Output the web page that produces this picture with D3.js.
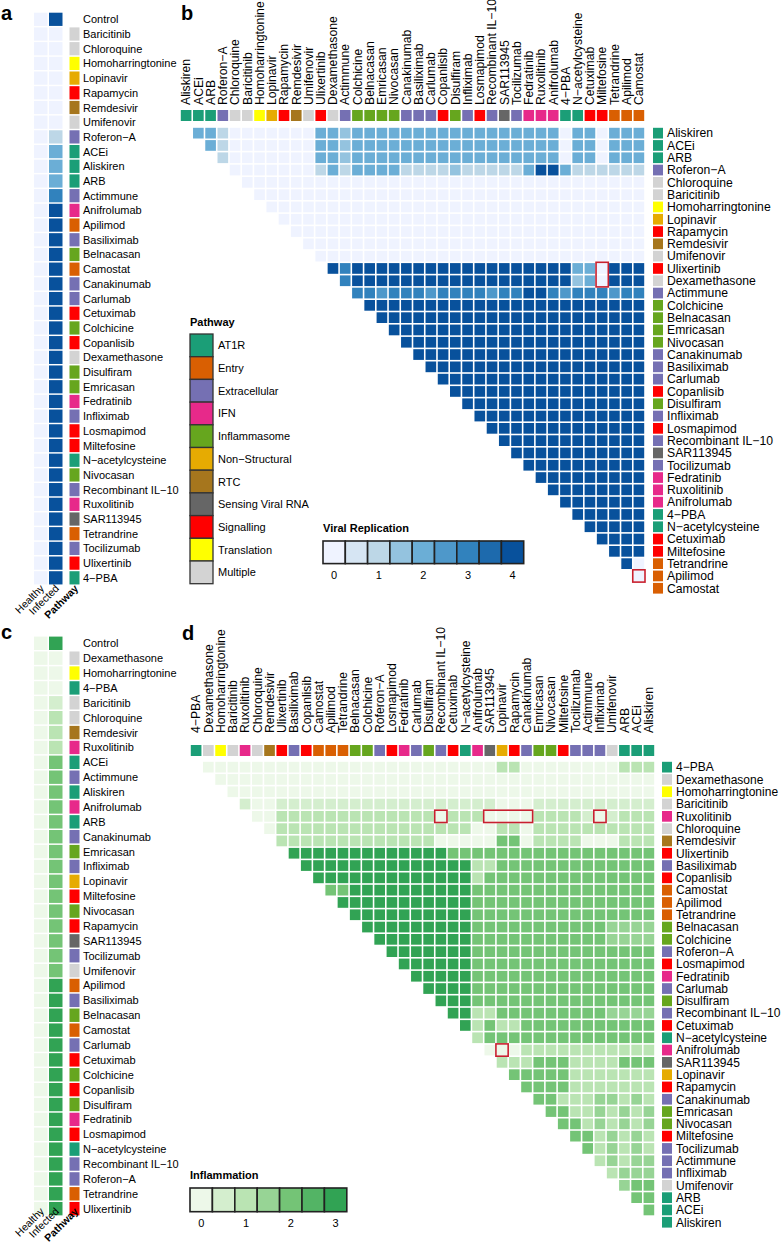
<!DOCTYPE html>
<html>
<head>
<meta charset="utf-8">
<script src="https://cdn.jsdelivr.net/npm/d3@7"></script>
<style>
body { margin: 0; background: #fff; }
text { font-family: "Liberation Sans", Arial, Helvetica, sans-serif; fill: #000; }
</style>
</head>
<body>
<svg id="chart" width="782" height="1248"></svg>
<script>
// ---- pathways ----
const pathways = ["AT1R", "Entry", "Extracellular", "IFN", "Inflammasome", "Non\u2212Structural",
  "RTC", "Sensing Viral RNA", "Signalling", "Translation", "Multiple"];
const pathwayColors = ["#1b9e77", "#d95f02", "#7570b3", "#e7298a", "#66a61e", "#e6ab02",
  "#a6761d", "#666666", "#ff0000", "#ffff00", "#d3d3d3"];

const drugPathway = {
  "Aliskiren": "AT1R", "ACEi": "AT1R", "ARB": "AT1R", "4\u2212PBA": "AT1R", "N\u2212acetylcysteine": "AT1R",
  "Tetrandrine": "Entry", "Apilimod": "Entry", "Camostat": "Entry",
  "Roferon\u2212A": "Extracellular", "Actimmune": "Extracellular", "Canakinumab": "Extracellular",
  "Basiliximab": "Extracellular", "Carlumab": "Extracellular", "Infliximab": "Extracellular",
  "Recombinant IL\u221210": "Extracellular", "Tocilizumab": "Extracellular",
  "Fedratinib": "IFN", "Ruxolitinib": "IFN", "Anifrolumab": "IFN",
  "Colchicine": "Inflammasome", "Belnacasan": "Inflammasome", "Emricasan": "Inflammasome",
  "Nivocasan": "Inflammasome", "Disulfiram": "Inflammasome",
  "Lopinavir": "Non\u2212Structural", "Remdesivir": "RTC", "SAR113945": "Sensing Viral RNA",
  "Rapamycin": "Signalling", "Ulixertinib": "Signalling", "Copanlisib": "Signalling",
  "Losmapimod": "Signalling", "Cetuximab": "Signalling", "Miltefosine": "Signalling",
  "Homoharringtonine": "Translation",
  "Chloroquine": "Multiple", "Baricitinib": "Multiple", "Umifenovir": "Multiple", "Dexamethasone": "Multiple"
};

// ---- panel a : viral replication per drug ----
const aRows = ["Control", "Baricitinib", "Chloroquine", "Homoharringtonine", "Lopinavir", "Rapamycin",
  "Remdesivir", "Umifenovir", "Roferon\u2212A", "ACEi", "Aliskiren", "ARB", "Actimmune", "Anifrolumab",
  "Apilimod", "Basiliximab", "Belnacasan", "Camostat", "Canakinumab", "Carlumab", "Cetuximab",
  "Colchicine", "Copanlisib", "Dexamethasone", "Disulfiram", "Emricasan", "Fedratinib", "Infliximab",
  "Losmapimod", "Miltefosine", "N\u2212acetylcysteine", "Nivocasan", "Recombinant IL\u221210", "Ruxolitinib",
  "SAR113945", "Tetrandrine", "Tocilizumab", "Ulixertinib", "4\u2212PBA"];
const aHealthy = [0,0,0,0,0,0,0,0,0,0,0,0,0,0,0,0,0,0,0,0,0,0,0,0,0,0,0,0,0,0,0,0,0,0,0,0,0,0,0];
const aInfected = [4,0,0,0,0,0,0,0,1,2,2,2,3,4,4,4,4,4,4,4,4,4,4,4,4,4,4,4,4,4,4,4,4,4,4,4,4,4,4];

// ---- panel c : inflammation per drug ----
const cRows = ["Control", "Dexamethasone", "Homoharringtonine", "4\u2212PBA", "Baricitinib", "Chloroquine",
  "Remdesivir", "Ruxolitinib", "ACEi", "Actimmune", "Aliskiren", "Anifrolumab", "ARB", "Canakinumab",
  "Emricasan", "Infliximab", "Lopinavir", "Miltefosine", "Nivocasan", "Rapamycin", "SAR113945",
  "Tocilizumab", "Umifenovir", "Apilimod", "Basiliximab", "Belnacasan", "Camostat", "Carlumab",
  "Cetuximab", "Colchicine", "Copanlisib", "Disulfiram", "Fedratinib", "Losmapimod", "N\u2212acetylcysteine",
  "Recombinant IL\u221210", "Roferon\u2212A", "Tetrandrine", "Ulixertinib"];
const cHealthy = [0,0,0,0,0,0,0,0,0,0,0,0,0,0,0,0,0,0,0,0,0,0,0,0,0,0,0,0,0,0,0,0,0,0,0,0,0,0,0];
const cInfected = [3,0,0,0,0.5,1,1,1,2,2,2,2,2,2,2,2,2,2,2,2,2,2,2,3,3,3,3,3,3,3,3,3,3,3,3,3,3,3,3];

// ---- panel b : viral replication, drug pairs ----
const bOrder = ["Aliskiren", "ACEi", "ARB", "Roferon\u2212A", "Chloroquine", "Baricitinib", "Homoharringtonine",
  "Lopinavir", "Rapamycin", "Remdesivir", "Umifenovir", "Ulixertinib", "Dexamethasone", "Actimmune",
  "Colchicine", "Belnacasan", "Emricasan", "Nivocasan", "Canakinumab", "Basiliximab", "Carlumab",
  "Copanlisib", "Disulfiram", "Infliximab", "Losmapimod", "Recombinant IL\u221210", "SAR113945",
  "Tocilizumab", "Fedratinib", "Ruxolitinib", "Anifrolumab", "4\u2212PBA", "N\u2212acetylcysteine",
  "Cetuximab", "Miltefosine", "Tetrandrine", "Apilimod", "Camostat"];
// row i lists the pairs with the drugs after it; one digit per pair, in half steps (8 = 4.0)
const bCells = [
  "442 0000000 44 3 44444444444444444 0 44 0 444",
  "42 0000000 44 3 44444444444444444 0 44 0 444",
  "2 0000000 44 3 44444444444444444 0 44 0 444",
  "0000000 2 4 2 4444 2222 3 22222 4 88 4 222222",
  "000000000000000000000000000000000",
  "00000000000000000000000000000000",
  "0000000000000000000000000000000",
  "000000000000000000000000000000",
  "00000000000000000000000000000",
  "0000000000000000000000000000",
  "000000000000000000000000000",
  "8 6 888888888888888888 44 0 888",
  "6 888888888888888888 34 0 888",
  "66566656666566 88 65666566",
  "88888888888888888888888",
  "8888888888888888888888",
  "888888888888888888888",
  "88888888888888888888",
  "8888888888888888888",
  "888888888888888888",
  "88888888888888888",
  "8888888888888888",
  "888888888888888",
  "88888888888888",
  "8888888888888",
  "888888888888",
  "88888888888",
  "8888888888",
  "888888888",
  "88888888",
  "8888888",
  "888888",
  "88888",
  "8888",
  "888",
  "80",
  "0",
  ""
];

// ---- panel d : inflammation, drug pairs ----
const dOrder = ["4\u2212PBA", "Dexamethasone", "Homoharringtonine", "Baricitinib", "Ruxolitinib", "Chloroquine",
  "Remdesivir", "Ulixertinib", "Basiliximab", "Copanlisib", "Camostat", "Apilimod", "Tetrandrine",
  "Belnacasan", "Colchicine", "Roferon\u2212A", "Losmapimod", "Fedratinib", "Carlumab", "Disulfiram",
  "Recombinant IL\u221210", "Cetuximab", "N\u2212acetylcysteine", "Anifrolumab", "SAR113945", "Lopinavir",
  "Rapamycin", "Canakinumab", "Emricasan", "Nivocasan", "Miltefosine", "Tocilizumab", "Actimmune",
  "Infliximab", "Umifenovir", "ARB", "ACEi", "Aliskiren"];
const dCells = [
  "000000000000000000000000 22 00000000 222",
  "000000000000000000000000000000000000",
  "00000000000000000000000000000000000",
  "1 00 111111111111111111 000 1111111111",
  "00 2222222222222 0 222 0000 2222 1 0 1 222",
  "0 2222222222222222 00 22 0 2222222222",
  "2222222222222 00000 44 0 2222 000 222",
  "6666666666666 44444444444444444",
  "66666666666666 22 4444444444444",
  "6666666666666 2 44444444444444",
  "44 6666666666 444444444444444",
  "66666666666 444444444444444",
  "6666666666 444444444444444",
  "666666666 44444444444 3333",
  "66666666 44444444444 3333",
  "6666666 444444444444444",
  "666666 444444444444444",
  "66666 444444444444444",
  "6666 444444444444444",
  "666 444444444444444",
  "66 22 444444444 3333",
  "6 2 4 22 44444444444",
  "2 44444444444444",
  "000 22222222222",
  "22 2 444 2222 444",
  "44444 2222222",
  "4444 2222222",
  "44 22233232",
  "44 2232323",
  "44 232323",
  "44 23232",
  "4 23232",
  "23233",
  "2333",
  "344",
  "44",
  "4",
  ""
];

// red outlines: [first row, last row, first col, last col]
const bHighlights = [["Ulixertinib", "Dexamethasone", "Miltefosine", "Miltefosine"],
  ["Apilimod", "Apilimod", "Camostat", "Camostat"]];
const dHighlights = [["Ruxolitinib", "Ruxolitinib", "Recombinant IL\u221210", "Recombinant IL\u221210"],
  ["Ruxolitinib", "Ruxolitinib", "SAR113945", "Canakinumab"],
  ["Ruxolitinib", "Ruxolitinib", "Infliximab", "Infliximab"],
  ["Anifrolumab", "Anifrolumab", "Lopinavir", "Lopinavir"]];

// legend steps
const viralSteps = [0, 0.5, 1, 1.5, 2, 2.5, 3, 3.5, 4];
const viralTicks = [0, 1, 2, 3, 4];
const inflSteps = [0, 0.5, 1, 1.5, 2, 2.5, 3];
const inflTicks = [0, 1, 2, 3];

// ---- scales ----
const viralColor = d3.scaleLinear().domain([0, 1, 2, 3, 4])
  .range(["#eff3ff", "#bdd7e7", "#6baed6", "#3182bd", "#08519c"]);
const inflColor = d3.scaleLinear().domain([0, 1, 2, 3])
  .range(["#edf8e9", "#bae4b3", "#74c476", "#31a354"]);
const pathwayColor = d3.scaleOrdinal().domain(pathways).range(pathwayColors);

const svg = d3.select("#chart");
const FS = 11;      // side panels and legends
const FT = 12.2;    // triangle panels
const RED = "#c8202f";

const panelLetter = (t, x, y) => svg.append("text").attr("x", x).attr("y", y)
  .attr("font-size", 20).attr("font-weight", "bold").text(t);

// side panels a and c
function drawSide(rows, healthy, infected, color, y0, step, headY) {
  const g = svg.append("g");
  const y = d3.scaleBand().domain(rows).range([y0, y0 + rows.length * step]).paddingInner(0.1);
  const x = d3.scaleBand().domain(["Healthy", "Infected"]).range([34, 62.5]).paddingInner(0.1);
  const data = rows.map((r, i) => ({ row: r, Healthy: healthy[i], Infected: infected[i] }));

  ["Healthy", "Infected"].forEach(k => {
    g.selectAll(".c" + k).data(data).join("rect").attr("class", "c" + k)
      .attr("x", x(k)).attr("y", d => y(d.row))
      .attr("width", x.bandwidth()).attr("height", y.bandwidth())
      .attr("fill", d => color(d[k]));
  });
  g.selectAll(".pw").data(rows.filter(r => drugPathway[r])).join("rect").attr("class", "pw")
    .attr("x", 69.5).attr("y", d => y(d)).attr("width", 10).attr("height", y.bandwidth())
    .attr("fill", d => pathwayColor(drugPathway[d]));
  g.selectAll(".lab").data(rows).join("text").attr("class", "lab")
    .attr("x", 83).attr("y", d => y(d) + y.bandwidth() / 2 + 4)
    .attr("font-size", FS).text(d => d);

  const heads = [["Healthy", x("Healthy") + x.bandwidth() / 2 + 4, "normal"],
    ["Infected", x("Infected") + x.bandwidth() / 2 + 4, "normal"],
    ["Pathway", 79, "bold"]];
  g.selectAll(".head").data(heads).join("text").attr("class", "head")
    .attr("transform", d => `translate(${d[1]},${headY}) rotate(-45)`)
    .attr("text-anchor", "end").attr("font-size", 10.5).attr("font-weight", d => d[2])
    .text(d => d[0]);
}

function triCells(order, rows) {
  const out = [];
  rows.forEach((s, i) => {
    const digits = s.replace(/ /g, "");
    for (let k = 0; k < digits.length; k++) {
      out.push({ row: order[i], col: order[i + 1 + k], value: +digits[k] / 2 });
    }
  });
  return out;
}

// triangle panels b and d
function drawTri(p) {
  const g = svg.append("g");
  const x = d3.scaleBand().domain(p.order).range(p.xRange).paddingInner(0.13).paddingOuter(0.065);
  const y = d3.scaleBand().domain(p.order).range(p.yRange).paddingInner(0.13).paddingOuter(0.065);

  g.selectAll(".collab").data(p.order).join("text").attr("class", "collab")
    .attr("transform", d => `translate(${x(d) + x.bandwidth() / 2 + 4.3},${p.labelBottom}) rotate(-90)`)
    .attr("font-size", FT).text(d => d);

  g.selectAll(".strip").data(p.order).join("rect").attr("class", "strip")
    .attr("x", d => x(d)).attr("y", p.stripY)
    .attr("width", x.bandwidth()).attr("height", p.stripH)
    .attr("fill", d => pathwayColor(drugPathway[d]));

  g.selectAll(".cell").data(triCells(p.order, p.rows)).join("rect").attr("class", "cell")
    .attr("x", d => x(d.col)).attr("y", d => y(d.row))
    .attr("width", x.bandwidth()).attr("height", y.bandwidth())
    .attr("fill", d => p.color(d.value));

  g.selectAll(".rowsq").data(p.order).join("rect").attr("class", "rowsq")
    .attr("x", p.squareX).attr("y", d => y(d))
    .attr("width", 10).attr("height", y.bandwidth())
    .attr("fill", d => pathwayColor(drugPathway[d]));
  g.selectAll(".rowlab").data(p.order).join("text").attr("class", "rowlab")
    .attr("x", p.squareX + 14).attr("y", d => y(d) + y.bandwidth() / 2 + 4.3)
    .attr("font-size", p.rowFont).text(d => d);

  const gapX = (x.step() - x.bandwidth()) / 2, gapY = (y.step() - y.bandwidth()) / 2;
  g.selectAll(".hl").data(p.highlights).join("rect").attr("class", "hl")
    .attr("x", d => x(d[2]) - gapX).attr("y", d => y(d[0]) - gapY)
    .attr("width", d => x(d[3]) - x(d[2]) + x.step())
    .attr("height", d => y(d[1]) - y(d[0]) + y.step())
    .attr("fill", "none").attr("stroke", RED).attr("stroke-width", 1.6);
}

function drawScaleLegend(title, steps, ticks, color, x0, y0, w, h) {
  const g = svg.append("g");
  const x = d3.scaleBand().domain(steps).range([x0, x0 + steps.length * w]);
  g.append("text").attr("x", x0).attr("y", y0 - 9).attr("font-size", FS)
    .attr("font-weight", "bold").text(title);
  g.selectAll("rect").data(steps).join("rect")
    .attr("x", d => x(d)).attr("y", y0).attr("width", x.bandwidth()).attr("height", h)
    .attr("fill", d => color(d)).attr("stroke", "#222").attr("stroke-width", 1.6);
  g.selectAll(".tk").data(ticks).join("text").attr("class", "tk")
    .attr("x", d => x(d) + x.bandwidth() / 2).attr("y", y0 + h + 15)
    .attr("text-anchor", "middle").attr("font-size", FS).attr("fill", "#222").text(d => d);
}

function drawPathwayLegend(x0, y0, w, h) {
  const g = svg.append("g");
  const y = d3.scaleBand().domain(pathways).range([y0, y0 + pathways.length * h]);
  g.append("text").attr("x", x0).attr("y", y0 - 8).attr("font-size", FS)
    .attr("font-weight", "bold").text("Pathway");
  g.selectAll("rect").data(pathways).join("rect")
    .attr("x", x0).attr("y", d => y(d)).attr("width", w).attr("height", y.bandwidth())
    .attr("fill", d => pathwayColor(d)).attr("stroke", "#333").attr("stroke-width", 1.3);
  g.selectAll(".pl").data(pathways).join("text").attr("class", "pl")
    .attr("x", x0 + w + 5).attr("y", d => y(d) + y.bandwidth() / 2 + 4)
    .attr("font-size", FS).text(d => d);
}

// ---- draw ----
panelLetter("a", 1, 20);
panelLetter("b", 181, 20);
panelLetter("c", 1, 639);
panelLetter("d", 182, 640);

drawSide(aRows, aHealthy, aInfected, viralColor, 12.7, 14.66, 589);
drawSide(cRows, cHealthy, cInfected, inflColor, 636.6, 14.84, 1212);

drawTri({ order: bOrder, rows: bCells, color: viralColor, xRange: [180, 645], yRange: [127, 594.4],
  labelBottom: 105, stripY: 110, stripH: 11, squareX: 653, rowFont: FT, highlights: bHighlights });
drawTri({ order: dOrder, rows: dCells, color: inflColor, xRange: [190, 655], yRange: [761, 1228.4],
  labelBottom: 733, stripY: 745, stripH: 11, squareX: 662, rowFont: 12, highlights: dHighlights });

drawPathwayLegend(190, 334, 23, 22.7);
drawScaleLegend("Viral Replication", viralSteps, viralTicks, viralColor, 323, 541, 22.3, 22.6);
drawScaleLegend("Inflammation", inflSteps, inflTicks, inflColor, 190, 1188, 22.4, 23.7);
</script>
</body>
</html>
